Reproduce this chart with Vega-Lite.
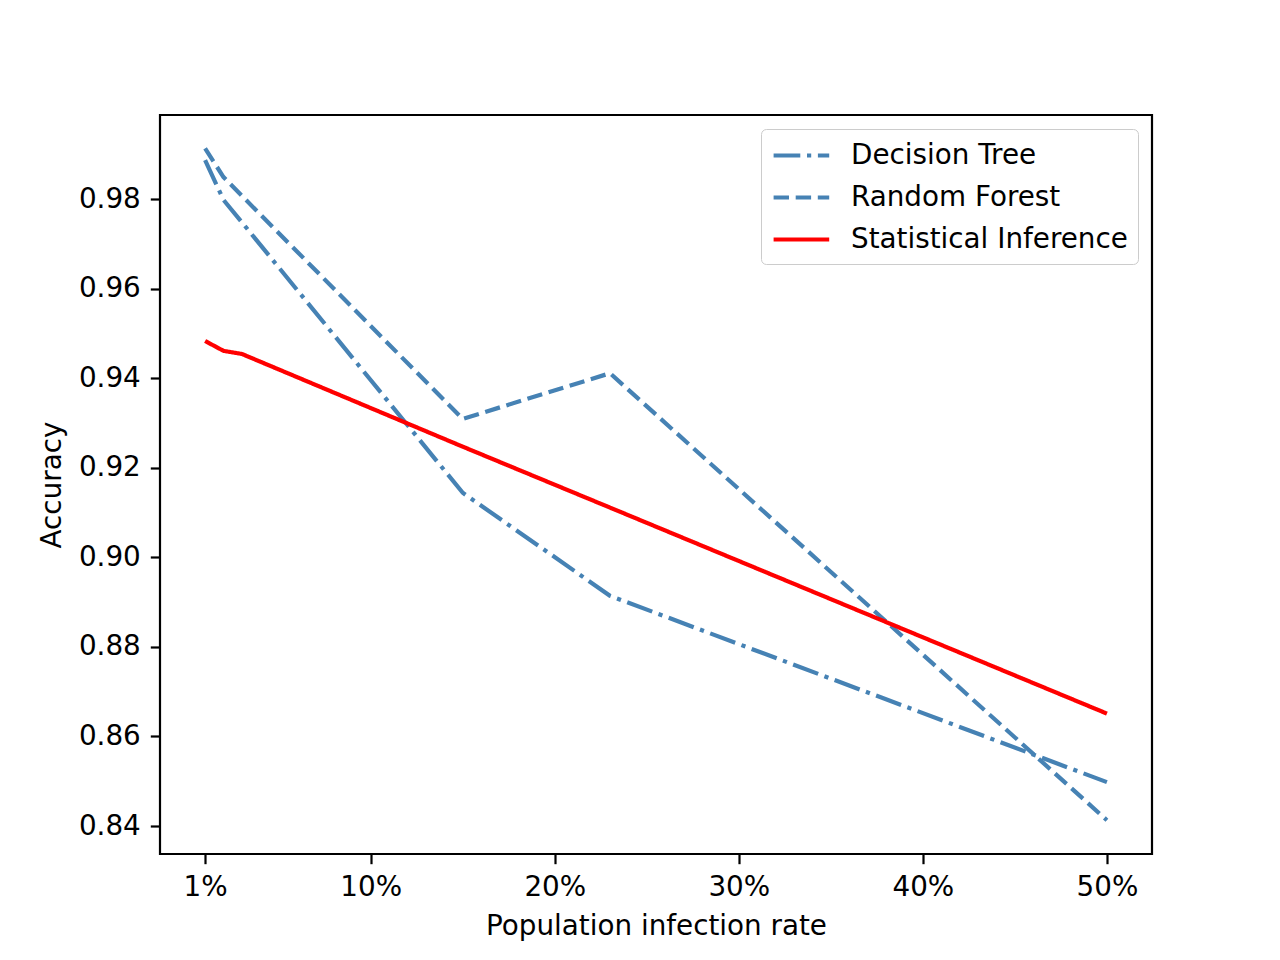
{
  "$schema": "https://vega.github.io/schema/vega-lite/v6.json",
  "width": 992,
  "height": 739,
  "autosize": {"type": "none"},
  "padding": {"left": 160, "top": 115, "right": 128, "bottom": 106},
  "background": "white",
  "data": {
    "values": [
      {"rate": 1, "accuracy": 0.9887, "model": "Decision Tree"},
      {"rate": 2, "accuracy": 0.9798, "model": "Decision Tree"},
      {"rate": 3, "accuracy": 0.9748, "model": "Decision Tree"},
      {"rate": 15, "accuracy": 0.9144, "model": "Decision Tree"},
      {"rate": 23, "accuracy": 0.8914, "model": "Decision Tree"},
      {"rate": 50, "accuracy": 0.8498, "model": "Decision Tree"},
      {"rate": 1, "accuracy": 0.9913, "model": "Random Forest"},
      {"rate": 2, "accuracy": 0.9849, "model": "Random Forest"},
      {"rate": 3, "accuracy": 0.9807, "model": "Random Forest"},
      {"rate": 15, "accuracy": 0.9309, "model": "Random Forest"},
      {"rate": 23, "accuracy": 0.9411, "model": "Random Forest"},
      {"rate": 50, "accuracy": 0.8413, "model": "Random Forest"},
      {"rate": 1, "accuracy": 0.9483, "model": "Statistical Inference"},
      {"rate": 2, "accuracy": 0.9461, "model": "Statistical Inference"},
      {"rate": 3, "accuracy": 0.9454, "model": "Statistical Inference"},
      {"rate": 15, "accuracy": 0.9247, "model": "Statistical Inference"},
      {"rate": 23, "accuracy": 0.9111, "model": "Statistical Inference"},
      {"rate": 50, "accuracy": 0.8651, "model": "Statistical Inference"}
    ]
  },
  "mark": {"type": "line", "strokeWidth": 4.2, "strokeCap": "butt", "clip": true},
  "encoding": {
    "x": {
      "field": "rate",
      "type": "quantitative",
      "title": "Population infection rate",
      "scale": {"domain": [-1.45, 52.45], "nice": false, "zero": false},
      "axis": {"values": [1, 10, 20, 30, 40, 50], "labelExpr": "datum.value + '%'"}
    },
    "y": {
      "field": "accuracy",
      "type": "quantitative",
      "title": "Accuracy",
      "scale": {"domain": [0.83375, 0.99876], "nice": false, "zero": false},
      "axis": {"values": [0.84, 0.86, 0.88, 0.9, 0.92, 0.94, 0.96, 0.98], "format": ".2f"}
    },
    "color": {
      "field": "model",
      "type": "nominal",
      "title": null,
      "scale": {
        "domain": ["Decision Tree", "Random Forest", "Statistical Inference"],
        "range": ["#4682b4", "#4682b4", "#ff0000"]
      }
    },
    "strokeDash": {
      "field": "model",
      "type": "nominal",
      "title": null,
      "scale": {
        "domain": ["Decision Tree", "Random Forest", "Statistical Inference"],
        "range": [[26.7, 6.7, 4.2, 6.7], [15.4, 6.7], [1, 0]]
      }
    }
  },
  "config": {
    "font": "DejaVu Sans",
    "view": {"stroke": "black", "strokeWidth": 2.2},
    "axis": {
      "grid": false,
      "domain": false,
      "ticks": true,
      "tickColor": "black",
      "tickWidth": 2.2,
      "tickSize": 9.7,
      "labelPadding": 10,
      "labelFontSize": 27.8,
      "labelColor": "black",
      "labelFont": "DejaVu Sans",
      "titleFontSize": 27.8,
      "titleFontWeight": "normal",
      "titleColor": "black",
      "titleFont": "DejaVu Sans"
    },
    "axisX": {"titlePadding": 11},
    "axisY": {"titlePadding": 12},
    "legend": {
      "orient": "top-right",
      "offset": 14,
      "symbolType": "M-1,0H3",
      "symbolSize": 773,
      "symbolStrokeWidth": 4.2,
      "labelFontSize": 27.8,
      "labelFont": "DejaVu Sans",
      "labelColor": "black",
      "labelOffset": 47,
      "labelLimit": 0,
      "rowPadding": 11,
      "padding": 10,
      "fillColor": "rgba(255,255,255,0.8)",
      "strokeColor": "#cccccc",
      "cornerRadius": 5
    }
  }
}
